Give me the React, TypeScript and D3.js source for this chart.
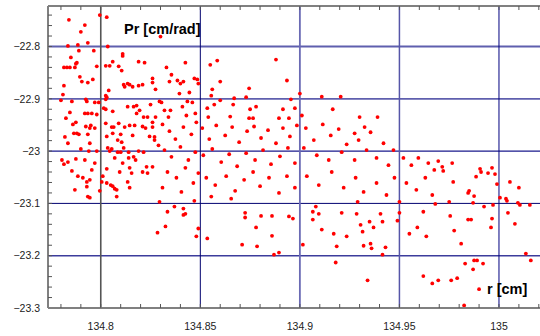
import React from 'react';
import * as d3 from 'd3';

// [r (cm), Pr (cm/rad)]
const points: [number, number][] = [
  [134.7995,-22.740],[134.803,-22.744],[134.784,-22.749],[134.792,-22.759],[134.790,-22.772],[134.7935,-22.793],
  [134.7885,-22.797],[134.7835,-22.799],[134.789,-22.808],[134.8035,-22.800],[134.830,-22.781],[134.785,-22.821],
  [134.7965,-22.808],[134.788,-22.831],[134.7875,-22.833],[134.7815,-22.840],[134.783,-22.840],[134.7845,-22.840],
  [134.787,-22.840],[134.798,-22.838],[134.8025,-22.837],[134.8045,-22.837],[134.806,-22.829],[134.809,-22.838],
  [134.8105,-22.846],[134.811,-22.814],[134.811,-22.818],[134.819,-22.829],[134.822,-22.831],[134.833,-22.840],
  [134.8355,-22.854],[134.8425,-22.831],[134.8485,-22.863],[134.7895,-22.858],[134.7905,-22.867],[134.7935,-22.869],
  [134.796,-22.863],[134.7815,-22.875],[134.781,-22.892],[134.780,-22.903],[134.7855,-22.905],[134.7925,-22.901],
  [134.793,-22.905],[134.797,-22.907],[134.799,-22.907],[134.8025,-22.894],[134.803,-22.897],[134.8025,-22.901],
  [134.804,-22.884],[134.8115,-22.873],[134.812,-22.877],[134.8135,-22.871],[134.8145,-22.873],[134.816,-22.877],
  [134.819,-22.875],[134.821,-22.873],[134.826,-22.861],[134.826,-22.869],[134.8275,-22.882],[134.8345,-22.867],
  [134.8385,-22.865],[134.8415,-22.867],[134.8445,-22.888],[134.847,-22.861],[134.8135,-22.915],[134.8165,-22.915],
  [134.818,-22.913],[134.8195,-22.922],[134.825,-22.911],[134.8295,-22.905],[134.8305,-22.907],[134.832,-22.922],
  [134.835,-22.922],[134.841,-22.915],[134.8435,-22.905],[134.846,-22.907],[134.7845,-22.926],[134.7825,-22.937],
  [134.792,-22.928],[134.7935,-22.928],[134.7955,-22.928],[134.798,-22.930],[134.8015,-22.918],[134.8025,-22.920],
  [134.806,-22.924],[134.818,-22.928],[134.8215,-22.935],[134.8235,-22.935],[134.8275,-22.935],[134.834,-22.935],
  [134.8475,-22.928],[134.840,-22.871],[134.849,-22.871],[134.8395,-22.890],[134.843,-22.932],
  [134.855,-22.835],[134.8585,-22.827],[134.888,-22.825],[134.860,-22.867],[134.8935,-22.865],[134.856,-22.882],
  [134.8555,-22.894],[134.8745,-22.880],[134.900,-22.890],[134.911,-22.896],[134.9205,-22.896],[134.873,-22.897],
  [134.867,-22.899],[134.860,-22.903],[134.8955,-22.901],[134.857,-22.911],[134.8665,-22.911],[134.878,-22.915],
  [134.8535,-22.918],[134.875,-22.920],[134.8915,-22.920],[134.8975,-22.918],[134.9165,-22.920],[134.901,-22.932],
  [134.854,-22.935],[134.865,-22.934],[134.8745,-22.937],[134.8765,-22.937],[134.8895,-22.937],[134.8945,-22.937],
  [134.930,-22.935],[134.939,-22.935],
  [134.786,-22.949],[134.7875,-22.945],[134.7925,-22.953],[134.7945,-22.956],[134.797,-22.956],[134.795,-22.951],
  [134.7865,-22.966],[134.788,-22.966],[134.789,-22.968],[134.7935,-22.968],[134.7835,-22.985],[134.790,-22.996],
  [134.794,-23.000],[134.798,-23.000],[134.7805,-23.017],[134.7835,-23.021],[134.7875,-23.015],[134.792,-23.017],
  [134.797,-23.023],[134.7815,-23.025],[134.7855,-23.038],[134.7955,-23.036],[134.7885,-23.048],[134.791,-23.051],
  [134.8025,-22.947],[134.803,-22.972],[134.8035,-22.994],[134.8045,-23.000],[134.803,-23.034],[134.801,-23.048],
  [134.8055,-22.954],[134.8065,-22.954],[134.809,-22.947],[134.806,-22.966],[134.8085,-22.979],[134.8105,-22.983],
  [134.810,-22.968],[134.812,-22.954],[134.8145,-22.951],[134.817,-22.951],[134.816,-22.970],[134.8055,-22.996],
  [134.8085,-23.002],[134.810,-23.002],[134.814,-23.002],[134.807,-23.013],[134.814,-23.013],[134.8165,-23.011],
  [134.811,-23.023],[134.8095,-23.040],[134.8145,-23.032],[134.8155,-23.042],[134.819,-23.000],
  [134.782,-22.973],[134.8175,-23.017],[134.8115,-22.994],[134.7945,-22.985],
  [134.821,-22.953],[134.8225,-22.956],[134.826,-22.945],[134.826,-22.954],[134.8215,-23.002],[134.821,-23.040],
  [134.8235,-23.042],[134.823,-23.030],[134.826,-23.030],[134.827,-22.979],[134.829,-22.989],[134.827,-22.973],
  [134.8245,-22.972],
  [134.787,-23.074],[134.793,-23.068],[134.7935,-23.087],[134.7945,-23.089],[134.7995,-23.076],[134.8005,-23.059],
  [134.803,-23.061],[134.805,-23.065],[134.806,-23.067],[134.807,-23.072],[134.808,-23.087],[134.8135,-23.059],
  [134.8145,-23.070],[134.808,-23.074],[134.793,-23.059],[134.7945,-23.055],
  [134.8295,-23.097],[134.8285,-23.156],[134.8325,-23.144],[134.8335,-23.116],[134.837,-23.106],[134.8415,-23.110],
  [134.8415,-23.122],[134.8425,-23.120],[134.847,-23.095],[134.848,-23.163],[134.849,-23.148],
  [134.8535,-23.167],[134.871,-23.179],[134.8725,-23.118],[134.8725,-23.127],[134.878,-23.146],[134.8785,-23.182],
  [134.8805,-23.124],[134.886,-23.124],[134.886,-23.162],[134.887,-23.198],[134.8895,-23.194],[134.8945,-23.125],
  [134.8965,-23.129],[134.9015,-23.179],[134.9065,-23.116],[134.908,-23.106],[134.9095,-23.120],[134.9065,-23.131],
  [134.911,-23.150],[134.917,-23.158],[134.9185,-23.182],[134.918,-23.213],[134.921,-23.118],[134.9235,-23.163],
  [134.9285,-23.120],[134.929,-23.097],[134.9305,-23.141],[134.9315,-23.154],[134.935,-23.135],[134.937,-23.146],
  [134.932,-23.181],[134.9355,-23.177],[134.936,-23.186],[134.934,-23.247],[134.9405,-23.120],[134.9415,-23.135],
  [134.943,-23.184],[134.9415,-23.198],[134.949,-23.133],
  [134.950,-23.097],[134.950,-23.118],[134.955,-23.158],[134.959,-23.146],[134.962,-23.116],[134.9635,-23.163],
  [134.968,-23.101],[134.975,-23.097],[134.9755,-23.124],[134.9775,-23.152],[134.981,-23.177],[134.983,-23.215],
  [134.9875,-23.209],[134.989,-23.209],[134.992,-23.215],[134.987,-23.226],[134.962,-23.239],[134.9665,-23.253],
  [134.9695,-23.247],[134.976,-23.247],[134.979,-23.243],[134.990,-23.264],[134.9825,-23.295],[134.987,-23.099],
  [134.9925,-23.106],[134.997,-23.103],[134.9845,-23.131],[134.986,-23.131],[134.9965,-23.129],[134.996,-23.146],
  [135.0045,-23.118],[135.004,-23.095],[135.0095,-23.099],[135.0105,-23.103],[135.0155,-23.103],[135.008,-23.139],
  [135.0135,-23.196],[135.016,-23.209],
  [134.9695,-23.019],[134.9715,-23.030],[134.972,-23.038],[134.9765,-23.023],[134.977,-23.059],[134.9885,-23.049],
  [134.9905,-23.034],[134.991,-23.040],[134.9945,-23.042],[134.9965,-23.032],[134.998,-23.044],[134.999,-23.063],
  [135.0055,-23.059],[135.010,-23.070],[134.9845,-23.080],[134.985,-23.076],[134.9875,-23.086],[135.0005,-23.089],
  [135.0035,-23.091],
  [134.831,-22.949],[134.8345,-22.962],[134.8375,-22.977],[134.8415,-22.954],[134.8455,-22.968],[134.848,-22.945],
  [134.832,-22.998],[134.8355,-23.011],[134.840,-22.992],[134.844,-23.017],[134.8475,-23.002],[134.8335,-23.040],
  [134.838,-23.051],[134.8425,-23.032],[134.8465,-23.061],[134.831,-23.070],[134.8405,-23.078],[134.849,-23.042],
  [134.851,-22.956],[134.8545,-22.977],[134.858,-22.951],[134.8625,-22.970],[134.866,-22.954],[134.8695,-22.983],
  [134.8735,-22.962],[134.877,-22.953],[134.8805,-22.975],[134.884,-22.960],[134.888,-22.985],[134.8915,-22.956],
  [134.895,-22.972],[134.8985,-22.951],[134.8515,-23.008],[134.856,-22.996],[134.8605,-23.021],[134.8645,-23.006],
  [134.8685,-23.029],[134.873,-23.004],[134.8775,-23.017],[134.8815,-22.998],[134.8855,-23.025],[134.890,-23.010],
  [134.894,-22.994],[134.8975,-23.023],[134.853,-23.051],[134.8575,-23.065],[134.863,-23.048],[134.8675,-23.076],
  [134.872,-23.055],[134.8765,-23.040],[134.880,-23.067],[134.8845,-23.051],[134.8895,-23.080],[134.8935,-23.048],
  [134.8975,-23.070],[134.8555,-23.087],[134.8655,-23.091],
  [134.903,-22.956],[134.907,-22.979],[134.9115,-22.949],[134.9155,-22.970],[134.9195,-22.958],[134.9235,-22.987],
  [134.9275,-22.966],[134.9325,-22.954],[134.902,-22.994],[134.9085,-23.008],[134.9145,-23.017],[134.921,-23.002],
  [134.9275,-23.017],[134.9335,-22.998],[134.9385,-23.013],[134.9445,-23.027],[134.9035,-23.048],[134.9095,-23.065],
  [134.916,-23.040],[134.922,-23.070],[134.928,-23.051],[134.932,-23.078],[134.9385,-23.061],[134.9435,-23.084],
  [134.9475,-23.051],[134.9295,-22.979],[134.9355,-22.964],[134.942,-22.985],[134.947,-22.998],
  [134.952,-23.013],[134.956,-23.027],[134.9595,-23.013],[134.9645,-23.023],[134.9675,-23.036],[134.9535,-23.061],
  [134.9585,-23.074],[134.963,-23.051],[134.9665,-23.084],
];

const xGridValues = [134.8, 134.85, 134.9, 134.95, 135];
const xTickLabels = ['134.8', '134.85', '134.9', '134.95', '135'];
const yGridValues = [-22.8, -22.9, -23, -23.1, -23.2, -23.3];
const yTickLabels = ['\u221222.8', '\u221222.9', '\u221223', '\u221223.1', '\u221223.2', '\u221223.3'];
const xAxisLabel = 'r [cm]';
const yAxisLabel = 'Pr [cm/rad]';

const vStyle = (v: number) => {
  const k = Math.round(v * 100);
  if (k === 13480) return { stroke: '#555555', w: 1.6 };
  if (k === 13485) return { stroke: '#00006e', w: 1 };
  if (k === 13490) return { stroke: '#6a6ab4', w: 1.8 };
  if (k === 13495) return { stroke: '#5656a8', w: 1.5 };
  return { stroke: '#000080', w: 1 };
};
const hStyle = (v: number) => {
  const k = Math.round(v * 10);
  if (k === -228 || k === -229) return { stroke: '#5f5fae', w: 1.8 };
  if (k === -230) return { stroke: '#1a1a8c', w: 1.2 };
  if (k === -231) return { stroke: '#000070', w: 1 };
  return { stroke: '#3c3c9c', w: 1.5 };
};

export default function App() {
  const W = 540, H = 336;
  const left = 48, top = 6, bottom = 308;
  const x = d3.scaleLinear().domain([134.7735, 135.0206]).range([left, W]);
  const y = d3.scaleLinear().domain([-23.3, -22.7226]).range([bottom, top]);
  const font = "'Liberation Sans', Arial, sans-serif";

  const xMinor = d3.range(0, 25).map(i => 134.78 + i * 0.01).filter(v => x(v) > left + 1 && x(v) < W);
  const yMinor = d3.range(0, 29).map(i => -23.3 + i * 0.02).filter(v => y(v) > top + 1 && y(v) < bottom - 1);

  return (
    <svg width={W} height={H} style={{ position: 'absolute', left: 0, top: 0, background: '#fff' }}>
      <rect x={0} y={0} width={W} height={H} fill="#fff" />
      {yGridValues.filter(v => v > -23.29).map(v => {
        const s = hStyle(v);
        return <line key={'h' + v} x1={left} x2={W} y1={y(v)} y2={y(v)} stroke={s.stroke} strokeWidth={s.w} />;
      })}
      {xGridValues.map(v => {
        const s = vStyle(v);
        return <line key={'v' + v} x1={x(v)} x2={x(v)} y1={top} y2={bottom} stroke={s.stroke} strokeWidth={s.w} />;
      })}
      {points.map((p, i) => (
        <circle key={i} cx={x(p[0])} cy={y(p[1])} r={1.9} fill="#ff0000" />
      ))}
      {/* frame */}
      <line x1={left} x2={W} y1={top} y2={top} stroke="#808080" strokeWidth={2} />
      <line x1={left} x2={W} y1={bottom} y2={bottom} stroke="#808080" strokeWidth={2} />
      <line x1={left} x2={left} y1={top} y2={bottom} stroke="#808080" strokeWidth={2} />
      {xMinor.map((v, i) => (
        <g key={'xt' + i}>
          <line x1={x(v)} x2={x(v)} y1={top} y2={top + 4} stroke="#555" strokeWidth={1} />
          <line x1={x(v)} x2={x(v)} y1={bottom} y2={bottom - 4} stroke="#555" strokeWidth={1} />
        </g>
      ))}
      {yMinor.map((v, i) => (
        <line key={'yt' + i} x1={left} x2={left + 4} y1={y(v)} y2={y(v)} stroke="#555" strokeWidth={1} />
      ))}
      {xGridValues.map((v, i) => (
        <text key={'xl' + i} x={x(v)} y={330} textAnchor="middle" fontFamily={font} fontSize={10.5} fill="#222">
          {xTickLabels[i]}
        </text>
      ))}
      {yGridValues.map((v, i) => (
        <text key={'yl' + i} x={40} y={y(v) + 3.8} textAnchor="end" fontFamily={font} fontSize={10.5} fill="#222">
          {yTickLabels[i]}
        </text>
      ))}
      <text x={124} y={34} fontFamily={font} fontSize={14.5} fontWeight="bold" fill="#000">{yAxisLabel}</text>
      <text x={487} y={294} fontFamily={font} fontSize={14.5} fontWeight="bold" fill="#000">{xAxisLabel}</text>
    </svg>
  );
}
